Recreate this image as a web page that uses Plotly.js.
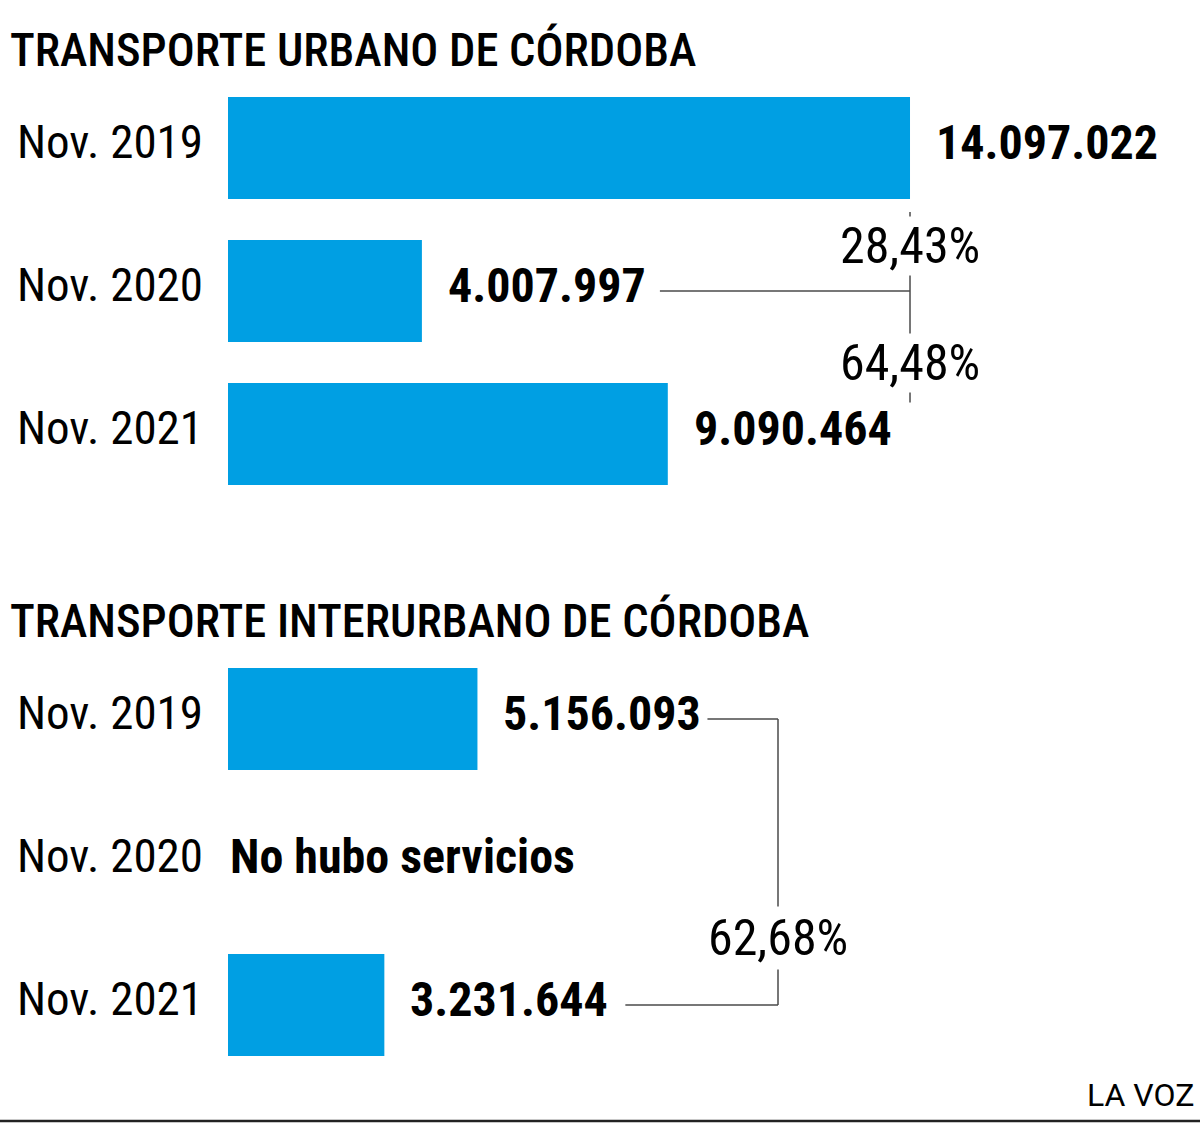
<!DOCTYPE html>
<html>
<head>
<meta charset="utf-8">
<script src="https://cdn.plot.ly/plotly-3.0.1.min.js"></script>
<style>html,body{margin:0;padding:0;background:#fff;}#chart{width:1200px;height:1144px;}</style>
</head>
<body>
<div id="chart"></div>
<script>
// ---- data ----
const categories = ["Nov. 2019", "Nov. 2020", "Nov. 2021"];
const urbanValues = [14097022, 4007997, 9090464];
const urbanLabels = ["14.097.022", "4.007.997", "9.090.464"];
const interValues = [5156093, null, 3231644];
const interLabels = ["5.156.093", "No hubo servicios", "3.231.644"];
const urbanPctLabels = ["28,43%", "64,48%"];
const interPctLabels = ["62,68%"];
const titles = ["TRANSPORTE URBANO DE CÓRDOBA", "TRANSPORTE INTERURBANO DE CÓRDOBA"];
const source = "LA VOZ";

// ---- layout constants ----
const W = 1200, H = 1144;
const plotLeft = 228;
const xMax = 20.091e6;
const pxPerUnit = (W - plotLeft) / xMax;
const px = p => p / pxPerUnit;          // pixel length -> data length
const pxAbs = p => (p - plotLeft) / pxPerUnit; // absolute pixel -> data
const BLUE = "#009fe3";
const NARROW = "Roboto Condensed, DejaVu Sans Condensed, sans-serif";
const LINE = {color: "#4a4a4a", width: 1.5};

const traces = [
  {type: "bar", orientation: "h", x: urbanValues, y: categories, xaxis: "x", yaxis: "y",
   marker: {color: BLUE}, hoverinfo: "skip", showlegend: false},
  {type: "bar", orientation: "h", x: interValues, y: categories, xaxis: "x2", yaxis: "y2",
   marker: {color: BLUE}, hoverinfo: "skip", showlegend: false}
];

const annotations = [];
const valFont = {family: NARROW, size: 48, color: "#000", weight: 700};
// value labels
urbanValues.forEach((v, i) => {
  annotations.push({xref: "x", yref: "y", x: v, y: categories[i], text: urbanLabels[i],
    xanchor: "left", yanchor: "middle", xshift: 24, yshift: 6, showarrow: false, font: valFont});
});
interValues.forEach((v, i) => {
  annotations.push({xref: "x2", yref: "y2", x: v === null ? 0 : v, y: categories[i], text: interLabels[i],
    xanchor: "left", yanchor: "middle", xshift: v === null ? 0 : 24, yshift: 6, showarrow: false, font: valFont});
});
// titles
const titleFont = {family: NARROW, size: 46.5, color: "#000", weight: 500};
annotations.push({xref: "paper", yref: "paper", x: 8 / W, y: 1 - 50 / H, xanchor: "left", yanchor: "middle",
  text: titles[0], showarrow: false, font: titleFont});
annotations.push({xref: "paper", yref: "paper", x: 8 / W, y: 1 - 621 / H, xanchor: "left", yanchor: "middle",
  text: titles[1], showarrow: false, font: titleFont});
// source
annotations.push({xref: "paper", yref: "paper", x: 1196 / W, y: 1 - 1095 / H, xanchor: "right", yanchor: "middle",
  text: source, showarrow: false, font: {family: "Roboto, sans-serif", size: 32, color: "#000"}});

// percentage labels
const pctFont = {family: NARROW, size: 50, color: "#000"};
const topX = urbanValues[0];
annotations.push({xref: "x", yref: "y", x: topX, y: 0.685, text: urbanPctLabels[0], showarrow: false,
  xanchor: "center", yanchor: "middle", bgcolor: "#fff", borderpad: 0, font: pctFont});
annotations.push({xref: "x", yref: "y", x: topX, y: 1.5, text: urbanPctLabels[1], showarrow: false,
  xanchor: "center", yanchor: "middle", bgcolor: "#fff", borderpad: 0, font: pctFont});
const botConnX = pxAbs(778);
annotations.push({xref: "x2", yref: "y2", x: botConnX, y: 1.53, text: interPctLabels[0], showarrow: false,
  xanchor: "center", yanchor: "middle", bgcolor: "#fff", borderpad: 2, font: pctFont});

const shapes = [
  // top connectors
  {type: "line", xref: "x", yref: "y", x0: topX, x1: topX, y0: 0.447, y1: 1.78, line: LINE, layer: "below"},
  {type: "line", xref: "x", yref: "y", x0: urbanValues[1] + px(238), x1: topX, y0: 1, y1: 1, line: LINE, layer: "below"},
  // bottom connectors
  {type: "line", xref: "x2", yref: "y2", x0: interValues[0] + px(230), x1: botConnX, y0: 0, y1: 0, line: LINE, layer: "below"},
  {type: "line", xref: "x2", yref: "y2", x0: botConnX, x1: botConnX, y0: 0, y1: 2, line: LINE, layer: "below"},
  {type: "line", xref: "x2", yref: "y2", x0: interValues[2] + px(241), x1: botConnX, y0: 2, y1: 2, line: LINE, layer: "below"},
  // bottom rule
  {type: "line", xref: "paper", yref: "paper", x0: 0, x1: 1, y0: 1 - 1121 / H, y1: 1 - 1121 / H,
   line: {color: "#222", width: 2.5}}
];

const xCommon = {range: [0, xMax], domain: [plotLeft / W, 1], showgrid: false, zeroline: false,
  showticklabels: false, showline: false, fixedrange: true};
const yCommon = {type: "category", categoryorder: "array", categoryarray: categories, autorange: "reversed",
  showgrid: false, zeroline: false, showline: false, ticks: "", ticklabelstandoff: 24, ticklabelshift: 6,
  tickfont: {family: NARROW, size: 47, color: "#000"}, fixedrange: true};

const layout = {
  width: W, height: H,
  margin: {l: 0, r: 0, t: 0, b: 0},
  paper_bgcolor: "#fff", plot_bgcolor: "#fff",
  bargap: 0.287,
  showlegend: false,
  xaxis: Object.assign({}, xCommon, {anchor: "y"}),
  yaxis: Object.assign({}, yCommon, {domain: [1 - 505.5 / H, 1 - 76.5 / H], anchor: "x"}),
  xaxis2: Object.assign({}, xCommon, {anchor: "y2"}),
  yaxis2: Object.assign({}, yCommon, {domain: [1 - 1076.5 / H, 1 - 647.5 / H], anchor: "x2"}),
  annotations: annotations,
  shapes: shapes
};

Plotly.newPlot("chart", traces, layout, {staticPlot: true, displayModeBar: false});
</script>
</body>
</html>
